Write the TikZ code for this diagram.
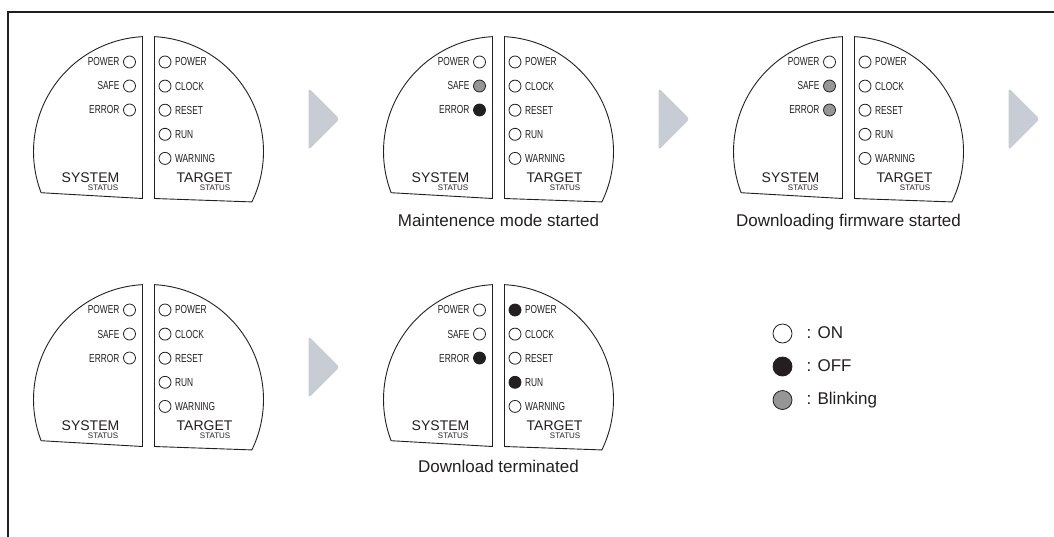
\documentclass[tikz,border=0pt]{standalone}
\usepackage{fontspec}
\setmainfont{Liberation Sans}
\newfontfamily\ledfont[FakeStretch=0.72]{Liberation Sans}
\usepackage{tikz}
\usetikzlibrary{positioning, calc}
\definecolor{inkdark}{RGB}{35,31,32}
\definecolor{blinkgray}{RGB}{150,150,150}
\definecolor{chevgray}{RGB}{200,204,212}
\tikzset{
  housing/.style={draw=inkdark, line width=0.9pt, fill=white},
  led/.style={circle, draw=inkdark, line width=0.8pt, minimum size=12pt,
              inner sep=0pt},
  ledon/.style={led, fill=white},
  ledoff/.style={led, fill=inkdark},
  ledblink/.style={led, fill=blinkgray},
  ledlabel/.style={inner sep=0pt, text=inkdark,
                   font=\ledfont\fontsize{11.6}{12}\selectfont},
  bigtag/.style={inner sep=0pt, text=inkdark, font=\fontsize{14}{15}\selectfont},
  smalltag/.style={inner sep=0pt, text=inkdark, font=\fontsize{8}{9}\selectfont},
  caption/.style={inner sep=0pt, text=inkdark, font=\fontsize{17}{19}\selectfont},
  legtext/.style={inner sep=0pt, text=inkdark, text height=12pt, text depth=3pt,
                  font=\fontsize{17}{19}\selectfont},
  legled/.style={circle, draw=inkdark, line width=0.8pt, minimum size=19pt,
                 inner sep=0pt},
  boxline/.style={line width=2pt, draw=inkdark},
  chevron/.pic={\fill[chevgray, rounded corners=3pt] (0,0) -- (0,62) -- (31,31) -- cycle;},
}

% #1 name, #2 centre, #3 system leds, #4 target leds
\newcommand{\ledpanel}[4]{%
  \coordinate (#1) at #2;
  \begin{scope}[shift={#2}]
    \draw[housing] (93:115) arc[start angle=93, end angle=201, radius=115]
                   -- (-6,-47) -- cycle;
    \draw[housing] (87:115) arc[start angle=87, end angle=-26, radius=115]
                   -- (6,-47) -- cycle;
    \foreach \st [count=\i from 0] in {#3} {
      \node[\st] (#1-s\i) at (-19,89.5-24*\i) {};
      \node[ledlabel, left=3.5pt of #1-s\i] (#1-sl\i)
        {\ifcase\i\relax POWER\or SAFE\or ERROR\fi};
    }
    \foreach \st [count=\i from 0] in {#4} {
      \node[\st] (#1-t\i) at (16.5,89.5-24.1*\i) {};
      \node[ledlabel, right=3.5pt of #1-t\i] (#1-tl\i)
        {\ifcase\i\relax POWER\or CLOCK\or RESET\or RUN\or WARNING\fi};
    }
    \node[bigtag, anchor=base east]   (#1-sys) at (-29,-30.5) {SYSTEM};
    \node[smalltag, anchor=base east] (#1-sst) at (-30,-39)   {STATUS};
    \node[bigtag, anchor=base west]   (#1-tgt) at (28,-31)    {TARGET};
    \node[smalltag, anchor=base east] (#1-tst) at (82,-39)    {STATUS};
  \end{scope}}

\begin{document}
\begin{tikzpicture}[x=1pt, y=1pt]
  \useasboundingbox (0,0) rectangle (1054,-536);
  \draw[boxline] (8,-540) -- (8,-12) -- (1060,-12);

  % first row
  \ledpanel{pA}{(148.5,-151.5)}{ledon,ledon,ledon}{ledon,ledon,ledon,ledon,ledon}
  \ledpanel{pB}{(498.5,-151.5)}{ledon,ledblink,ledoff}{ledon,ledon,ledon,ledon,ledon}
  \ledpanel{pC}{(848.5,-151.5)}{ledon,ledblink,ledblink}{ledon,ledon,ledon,ledon,ledon}
  % second row
  \ledpanel{pD}{(148.5,-399.5)}{ledon,ledon,ledon}{ledon,ledon,ledon,ledon,ledon}
  \ledpanel{pE}{(498.5,-399.5)}{ledon,ledon,ledoff}{ledoff,ledon,ledon,ledoff,ledon}

  \pic (arrA) at ([shift={(160,1.5)}]pA) {chevron};
  \pic (arrB) at ([shift={(160,1.5)}]pB) {chevron};
  \pic (arrC) at ([shift={(160,1.5)}]pC) {chevron};
  \pic (arrD) at ([shift={(160,1.5)}]pD) {chevron};

  \node[caption, anchor=base] (capB) at ([yshift=-75pt]pB) {Maintenence mode started};
  \node[caption, anchor=base] (capC) at ([yshift=-74.5pt]pC) {Downloading firmware started};
  \node[caption, anchor=base] (capE) at ([yshift=-72.5pt]pE) {Download terminated};

  % legend
  \node[legled, fill=white]     (legon)    at (782.5,-333.5) {};
  \node[legled, fill=inkdark]   (legoff)   at (782.5,-366.5) {};
  \node[legled, fill=blinkgray] (legblink) at (782.5,-400)   {};
  \node[legtext, right=14pt of legon]    (legonT)    {: ON};
  \node[legtext, right=14pt of legoff]   (legoffT)   {: OFF};
  \node[legtext, right=14pt of legblink] (legblinkT) {: Blinking};
\end{tikzpicture}
\end{document}
